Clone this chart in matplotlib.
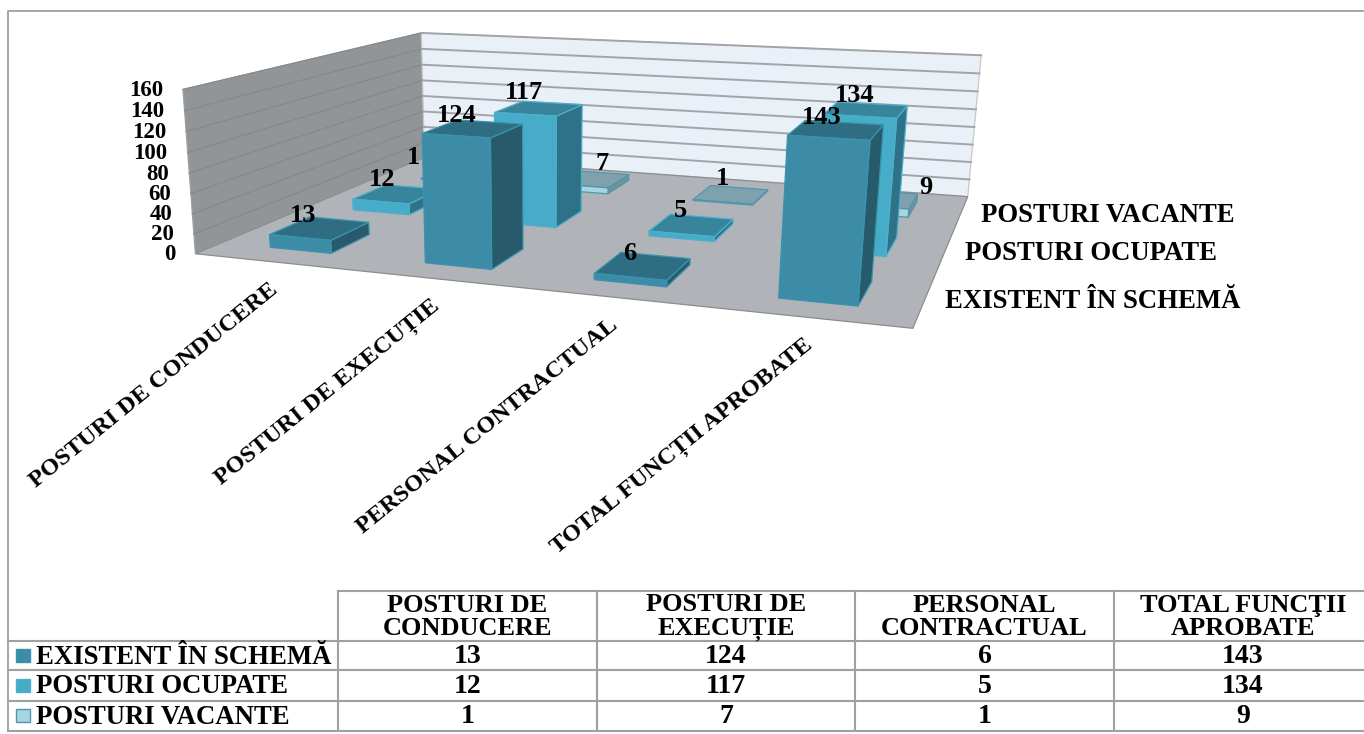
import matplotlib
matplotlib.use("Agg")

import matplotlib.pyplot as plt
import numpy as np
from matplotlib.patches import Polygon, Rectangle

categories = ["POSTURI DE CONDUCERE", "POSTURI DE EXECUȚIE", "PERSONAL CONTRACTUAL", "TOTAL FUNCȚII APROBATE"]
table_heads = ["POSTURI DE\nCONDUCERE", "POSTURI DE\nEXECUȚIE", "PERSONAL\nCONTRACTUAL", "TOTAL FUNCŢII\nAPROBATE"]
series = ["EXISTENT ÎN SCHEMĂ", "POSTURI OCUPATE", "POSTURI VACANTE"]
existent = [13, 124, 6, 143]
ocupate = [12, 117, 5, 134]
vacante = [1, 7, 1, 9]
y_ticks = [0, 20, 40, 60, 80, 100, 120, 140, 160]

FONT = "Liberation Serif"
# front, top, side, edge per series
COLORS = [
    ("#3C8CA7", "#2F6E82", "#275B6B", "#3A93AE"),
    ("#47ACC8", "#38849B", "#2F7186", "#4BB0CC"),
    ("#A9D4E2", "#7FA1AD", "#74909B", "#4E97AC"),
]
BAR_W = 0.40
BAR_D = 0.46
# pixel nudges of the value labels, Excel places them unevenly
LABEL_NUDGE = [
    [(-32, 8), (-29, 6), (-22, 10), (-18, 7)],
    [(-26, 5), (-24, 2), (-17, 6), (-13, 4)],
    [(-56, 2), (4, 3), (-12, 3), (43, 8)],
]

# where the plot box corners land on the picture: (cat, depth, value) -> pixel
anchors = [
    ((0, 0, 0), (196.7, 253.3)),
    ((4, 0, 0), (912.7, 329.0)),
    ((4, 3, 0), (968.3, 195.7)),
    ((0, 3, 0), (423.0, 158.0)),
    ((0, 0, 160), (181.7, 89.3)),
    ((0, 3, 160), (422.7, 32.7)),
    ((4, 3, 160), (980.7, 55.7)),
]


def fit_camera():
    rows = []
    for (x, y, z), (u, v) in anchors:
        z = z / 160
        rows.append([x, y, z, 1, 0, 0, 0, 0, -u * x, -u * y, -u * z, -u])
        rows.append([0, 0, 0, 0, x, y, z, 1, -v * x, -v * y, -v * z, -v])
    _, _, vt = np.linalg.svd(np.array(rows, dtype=float))
    return vt[-1].reshape(3, 4)


CAM = fit_camera()


def project(x, y, z):
    p = CAM @ np.array([x, y, z / 160, 1.0])
    return p[0] / p[2], p[1] / p[2]


def face(ax, pts, color, edge, z):
    ax.add_patch(Polygon([project(*p) for p in pts], closed=True, facecolor=color, edgecolor=edge, linewidth=0.9, zorder=z))


def main():
    fig = plt.figure(figsize=(13.64, 7.34), dpi=100)
    ax = fig.add_axes([0, 0, 1, 1])
    ax.set_xlim(0, 1364)
    ax.set_ylim(734, 0)
    ax.axis("off")

    # chart frame
    ax.plot([8, 8, 1364], [731, 11, 11], color="#a6a6a6", lw=1.4, zorder=1)

    # walls and floor
    face(ax, [(0, 0, 0), (0, 3, 0), (0, 3, 160), (0, 0, 160)], "#929598", "#a0a0a0", 2)
    face(ax, [(0, 3, 0), (4, 3, 0), (4, 3, 160), (0, 3, 160)], "#EAF0F7", "#c8c8c8", 2)
    face(ax, [(0, 0, 0), (4, 0, 0), (4, 3, 0), (0, 3, 0)], "#B0B4B8", "#8c8c8c", 3)
    for t in y_ticks[1:]:
        a, b, c = project(0, 0, t), project(0, 3, t), project(4, 3, t)
        ax.plot([a[0], b[0]], [a[1], b[1]], color="#868a8e", lw=1.0, zorder=2.5)
        ax.plot([b[0], c[0]], [b[1], c[1]], color="#a2a4a8", lw=1.4, zorder=2.5)
    for t in y_ticks:
        px, py = project(0, 0, t)
        ax.text(px - 20, py + 1, str(t), ha="right", va="center", family=FONT, weight="bold", fontsize=16.5, zorder=4)

    # bars, painted back to front and left to right
    values = [existent, ocupate, vacante]
    z = 10
    for s in (2, 1, 0):
        front, top, side, edge = COLORS[s]
        for c, v in enumerate(values[s]):
            xc = c + 0.5 + 0.025 * (3 - c) / 3
            x0, x1 = xc - BAR_W / 2, xc + BAR_W / 2
            y0, y1 = s + (1 - BAR_D) / 2, s + (1 + BAR_D) / 2
            face(ax, [(x1, y0, 0), (x1, y1, 0), (x1, y1, v), (x1, y0, v)], side, edge, z)
            face(ax, [(x0, y0, v), (x1, y0, v), (x1, y1, v), (x0, y1, v)], top, edge, z + 0.1)
            face(ax, [(x0, y0, 0), (x1, y0, 0), (x1, y0, v), (x0, y0, v)], front, edge, z + 0.2)
            lx, ly = project(xc, y1, v)
            dx, dy = LABEL_NUDGE[s][c]
            ax.text(lx - 4 + dx, ly - 12 + dy, str(v), ha="center", va="center", family=FONT, weight="bold", fontsize=19, zorder=z + 0.3)
            z += 1

    # axis labels
    for c, name in enumerate(categories):
        px, py = project(c + 0.5, 0, 0)
        ax.text(px + 3, py + 26, name, rotation=39, rotation_mode="anchor", ha="right", va="center",
                family=FONT, weight="bold", fontsize=17.6, zorder=5)
    for s, name in enumerate(series):
        px, py = project(4, s + 0.5, 0)
        ax.text(px + 20, py + 2, name, ha="left", va="center", family=FONT, weight="bold", fontsize=19.3, zorder=5)

    # data table
    col_x = [338, 597, 855, 1114, 1372]
    row_y = [591, 641, 670, 700.5, 730.5]
    line = dict(color="#a0a0a0", lw=1.5, zorder=6)
    ax.plot([col_x[0], 1364], [row_y[0], row_y[0]], **line)
    for y in row_y[1:]:
        ax.plot([8, 1364], [y, y], **line)
    for x in col_x[:4]:
        ax.plot([x, x], [row_y[0], row_y[-1]], **line)
    for c, head in enumerate(table_heads):
        ax.text((col_x[c] + col_x[c + 1]) / 2, (row_y[0] + row_y[1]) / 2 + 1, head, ha="center", va="center",
                family=FONT, weight="bold", fontsize=19, linespacing=1.0, zorder=7)
    for s, name in enumerate(series):
        yc = (row_y[s + 1] + row_y[s + 2]) / 2
        ax.add_patch(Rectangle((16, yc - 6.5), 14, 13, facecolor=COLORS[s][0], edgecolor=COLORS[s][3], lw=1, zorder=7))
        ax.text(36, yc + 1.5, name, ha="left", va="center", family=FONT, weight="bold", fontsize=19.3, zorder=7)
        for c, v in enumerate(values[s]):
            ax.text((col_x[c] + col_x[c + 1]) / 2, yc + 1, str(v), ha="center", va="center",
                    family=FONT, weight="bold", fontsize=20, zorder=7)

    fig.savefig("out.png", dpi=100)


if __name__ == "__main__":
    main()
